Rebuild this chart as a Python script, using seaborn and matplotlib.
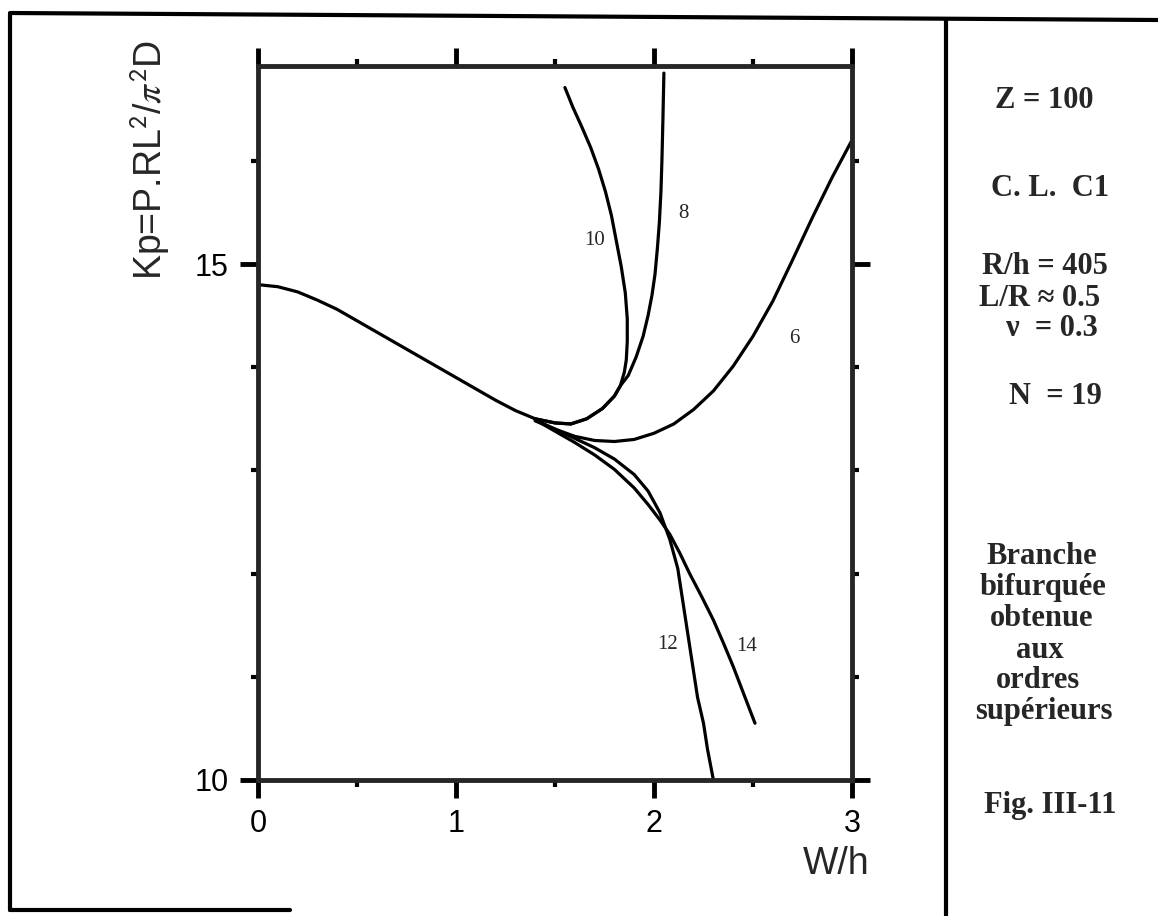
import numpy as np
import pandas as pd
import matplotlib as mpl
mpl.use("Agg")
import matplotlib.pyplot as plt
from matplotlib.lines import Line2D
from matplotlib.ticker import MultipleLocator
import seaborn as sns

# curves (W/h, Kp)
main_x = [0.00, 0.10, 0.20, 0.30, 0.40, 0.50, 0.60, 0.70, 0.80, 0.90, 1.00, 1.10, 1.20, 1.30, 1.40]
main_y = [14.80, 14.78, 14.73, 14.65, 14.56, 14.45, 14.34, 14.23, 14.12, 14.01, 13.90, 13.79, 13.68, 13.58, 13.50]

c10_x = [1.40, 1.50, 1.58, 1.66, 1.74, 1.80, 1.83, 1.85, 1.86, 1.865, 1.865, 1.855, 1.835, 1.81,
         1.785, 1.755, 1.72, 1.68, 1.635, 1.59, 1.55]
c10_y = [13.50, 13.46, 13.45, 13.50, 13.60, 13.72, 13.82, 13.95, 14.07, 14.25, 14.47, 14.72, 14.97, 15.22,
         15.47, 15.70, 15.92, 16.13, 16.33, 16.52, 16.71]

c8_x = [1.40, 1.50, 1.58, 1.66, 1.74, 1.80, 1.83, 1.87, 1.91, 1.945, 1.97, 1.99, 2.005, 2.017, 2.027,
        2.035, 2.04, 2.045, 2.05]
c8_y = [13.50, 13.46, 13.45, 13.50, 13.60, 13.72, 13.82, 13.92, 14.10, 14.30, 14.50, 14.70, 14.90, 15.15, 15.40,
        15.70, 16.00, 16.40, 16.85]

c6_x = [1.40, 1.50, 1.60, 1.70, 1.80, 1.90, 2.00, 2.10, 2.20, 2.30, 2.40, 2.50, 2.60, 2.70, 2.80, 2.90, 3.00]
c6_y = [13.48, 13.40, 13.33, 13.29, 13.28, 13.30, 13.36, 13.45, 13.59, 13.77, 14.01, 14.30, 14.64, 15.04, 15.45, 15.84, 16.20]

c12_x = [1.40, 1.50, 1.60, 1.70, 1.80, 1.90, 1.97, 2.03, 2.08, 2.12, 2.14, 2.16, 2.18, 2.20, 2.22, 2.25, 2.27, 2.30]
c12_y = [13.49, 13.40, 13.31, 13.22, 13.11, 12.96, 12.80, 12.59, 12.33, 12.05, 11.80, 11.55, 11.30, 11.05, 10.80, 10.55, 10.30, 10.00]

c14_x = [1.40, 1.50, 1.60, 1.70, 1.80, 1.90, 1.97, 2.03, 2.08, 2.13, 2.18, 2.24, 2.30, 2.35, 2.40, 2.45, 2.51]
c14_y = [13.49, 13.38, 13.27, 13.15, 13.01, 12.83, 12.67, 12.52, 12.38, 12.20, 12.00, 11.78, 11.55, 11.33, 11.10, 10.85, 10.55]

curve_names = ['10', '8', '6', '12', '14']
label_x = [1.70, 2.15, 2.71, 2.07, 2.47]
label_y = [15.23, 15.49, 14.28, 11.31, 11.29]

side_text = ['Z = 100', 'C. L.  C1', 'R/h = 405', 'L/R \u2248 0.5', '\u03bd  = 0.3', 'N  = 19',
             'Branche', 'bifurqu\u00e9e', 'obtenue', 'aux', 'ordres', 'sup\u00e9rieurs', 'Fig. III-11']

# ---------------------------------------------------------------
sns.set_style("ticks")
plt.rcParams['font.family'] = ['Liberation Sans', 'DejaVu Sans']
plt.rcParams['mathtext.fontset'] = 'stix'

W, H = 1158, 916
fig = plt.figure(figsize=(W / 100, H / 100), dpi=100)
ax = fig.add_axes([258 / W, 1 - 780 / H, (852 - 258) / W, (780 - 66) / H])

curves = [(main_x, main_y), (c10_x, c10_y), (c8_x, c8_y), (c6_x, c6_y), (c12_x, c12_y), (c14_x, c14_y)]
for cx, cy in curves:
    df = pd.DataFrame({'W/h': cx, 'Kp': cy})
    sns.lineplot(data=df, x='W/h', y='Kp', sort=False, estimator=None,
                 color='black', linewidth=2.3, ax=ax)

for name, lx, ly in zip(curve_names, label_x, label_y):
    ax.text(lx, ly, name, family='Liberation Serif', fontsize=15, ha='center', va='center')

ax.set_xlim(0, 3)
ax.set_ylim(10, 10 + (780 - 66) / 103.2)
ax.set_xlabel('')
ax.set_ylabel('')
ax.xaxis.set_major_locator(MultipleLocator(1))
ax.xaxis.set_minor_locator(MultipleLocator(0.5))
ax.yaxis.set_major_locator(MultipleLocator(5))
ax.yaxis.set_minor_locator(MultipleLocator(1))
for sp in ax.spines.values():
    sp.set_linewidth(3.5)
    sp.set_visible(True)
ax.tick_params(which='both', direction='out', top=True, right=True, colors='black')
ax.tick_params(which='major', length=13, width=3.5, labelsize=22, pad=8)
ax.tick_params(which='minor', length=5, width=3)
ax.tick_params(axis='y', pad=8)

# axis titles placed like the scan
fig.text(150 / W, 1 - 160 / H, r'Kp=P.RL$^{\mathsf{2}}$/$\pi^{\mathsf{2}}$D', rotation=90,
         fontsize=27, ha='center', va='center')
fig.text(836 / W, 1 - 864 / H, 'W/h', fontsize=27, ha='center', va='center')

# outer frame and divider
lw = 3
fig.add_artist(Line2D([10 / W, 10 / W], [1 - 14 / H, 1 - 910 / H], color='black', lw=lw))
fig.add_artist(Line2D([10 / W, 1.0], [1 - 13 / H, 1 - 20 / H], color='black', lw=lw))
fig.add_artist(Line2D([10 / W, 290 / W], [1 - 910 / H, 1 - 910 / H], color='black', lw=lw))
fig.add_artist(Line2D([946 / W, 946 / W], [1 - 19 / H, 0], color='black', lw=lw))

# parameter panel
side_x = [1044, 1050, 1045, 1040, 1052, 1055, 1042, 1043, 1042, 1040, 1038, 1044, 1050]
side_y = [100, 188, 267, 298, 329, 396, 556, 588, 619, 650, 681, 712, 806]
for t, sx, sy in zip(side_text, side_x, side_y):
    fig.text(sx / W, 1 - sy / H, t, family='Liberation Serif', fontsize=22, weight='bold',
             ha='center', va='center')

fig.savefig('out.png', dpi=100)
